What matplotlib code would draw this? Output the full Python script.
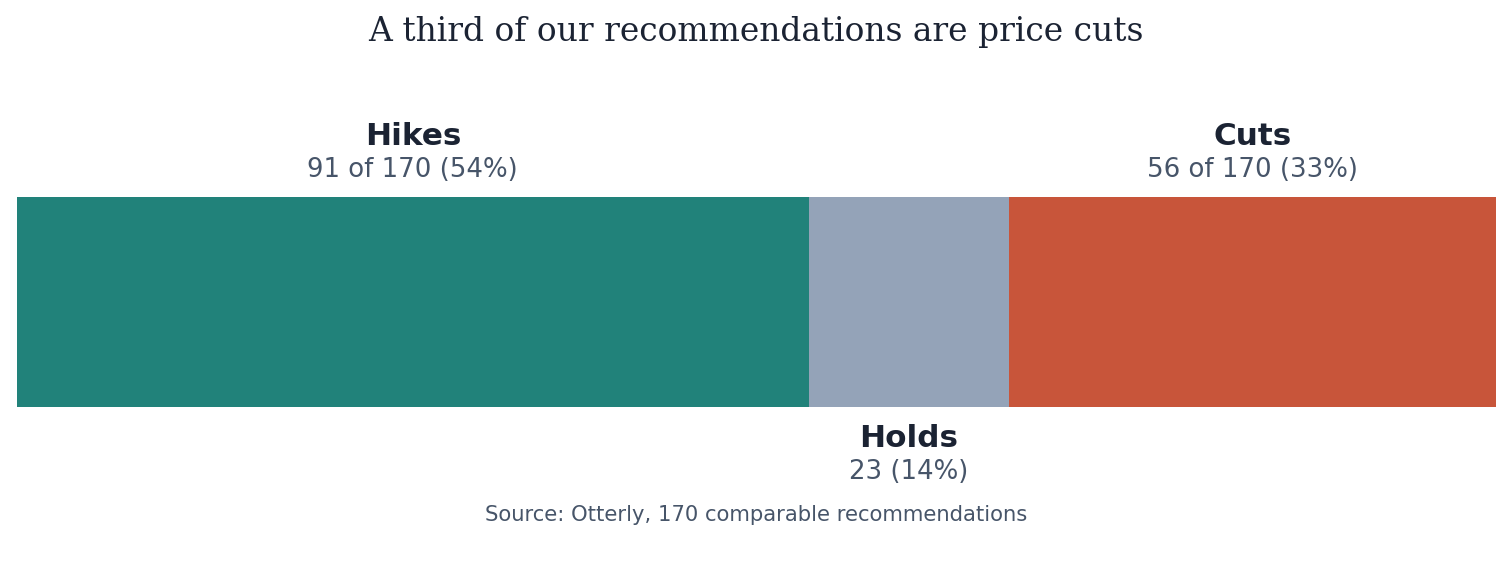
import matplotlib
matplotlib.use("Agg")
import matplotlib.pyplot as plt
from matplotlib.transforms import blended_transform_factory

categories = ["Hikes", "Holds", "Cuts"]
counts = [91, 23, 56]
total = 170
colors = ["#21827a", "#94a3b8", "#c8553a"]
subtitles = ["91 of 170 (54%)", "23 (14%)", "56 of 170 (33%)"]
title = "A third of our recommendations are price cuts"
source = "Source: Otterly, 170 comparable recommendations"

W, H = 1512, 579
fig = plt.figure(figsize=(W / 100, H / 100), dpi=100)
ax = fig.add_axes([17 / W, (H - 407) / H, (1496 - 17) / W, (407 - 197) / H])
ax.set_xlim(0, total)
ax.set_ylim(0, 1)
ax.axis("off")

left = 0
centers = []
for c, n, col in zip(categories, counts, colors):
    ax.barh(0.5, n, left=left, height=1.0, color=col, edgecolor="none")
    centers.append(left + n / 2)
    left += n

dark = "#1b2333"
mid = "#475569"
tr = blended_transform_factory(ax.transData, fig.transFigure)

def fy(px):
    return (H - px) / H

for i, (c, sub, cx) in enumerate(zip(categories, subtitles, centers)):
    if c == "Holds":
        yb, ys = 447, 479
    else:
        yb, ys = 145, 177
    fig.text(cx, fy(yb), c, transform=tr, ha="center", va="baseline",
             fontsize=22.4, fontweight="bold", color=dark, family="DejaVu Sans")
    fig.text(cx, fy(ys), sub, transform=tr, ha="center", va="baseline",
             fontsize=18.7, color=mid, family="DejaVu Sans")

fig.text(0.5, fy(41), title, ha="center", va="baseline", fontsize=23.7,
         color=dark, family="DejaVu Serif")
fig.text(0.5, fy(521), source, ha="center", va="baseline", fontsize=15.2,
         color=mid, family="DejaVu Sans")

fig.savefig("out.png", dpi=100)
